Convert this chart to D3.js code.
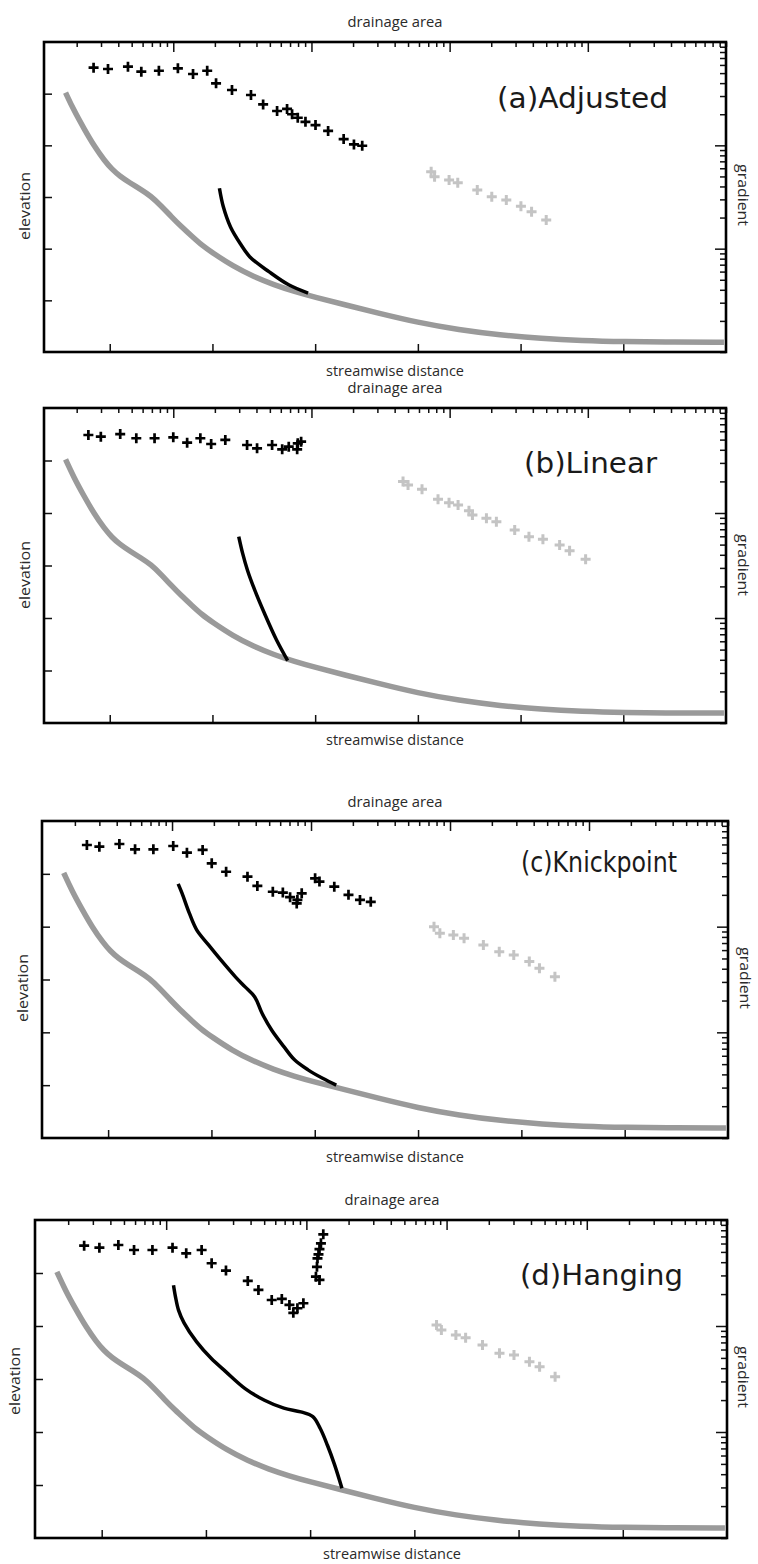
<!DOCTYPE html>
<html>
<head>
<meta charset="utf-8">
<script src="https://cdn.jsdelivr.net/npm/d3@7"></script>
<style>
  html, body { margin: 0; padding: 0; background: #fff; }
  svg { display: block; }
</style>
</head>
<body>
<div id="chart"></div>
<script>
// ---------------- data ----------------
const panelTitles = ["(a)Adjusted", "(b)Linear", "(c)Knickpoint", "(d)Hanging"];
const distanceTicks = [1, 2, 3, 4, 5, 6];
const elevationTicks = [1, 2, 3, 4, 5];
const areaMajorTicks = [10, 100, 1000, 10000];
const slopeMajorTicks = [0.01, 0.1];
const distDomain = [0.36, 7.0];
const elevDomain = [0, 6];
const areaDomain = [1.16, 100000];
const slopeDomain = [0.001, 1];

// main stem long profile (grey line), same in every panel
const mainDistance = [0.57, 0.65, 0.75, 0.85, 0.95, 1.02, 1.10, 1.20, 1.30, 1.40, 1.50, 1.60, 1.70, 1.80, 1.90, 2.00, 2.20, 2.40, 2.60, 2.80, 3.00, 3.30, 3.60, 4.00, 4.40, 4.80, 5.20, 5.60, 6.00, 6.50, 6.98];
const mainElevation = [5.02, 4.68, 4.32, 3.98, 3.70, 3.54, 3.40, 3.27, 3.15, 3.02, 2.83, 2.62, 2.42, 2.24, 2.06, 1.92, 1.66, 1.46, 1.30, 1.17, 1.06, 0.91, 0.76, 0.57, 0.43, 0.33, 0.26, 0.22, 0.20, 0.19, 0.19];

// tributary long profiles (black line)
const tribDistA = [2.068, 2.106, 2.176, 2.270, 2.365, 2.553, 2.742, 2.931];
const tribElevA = [3.17, 2.81, 2.42, 2.10, 1.84, 1.55, 1.30, 1.14];
const tribDistB = [2.256, 2.294, 2.341, 2.412, 2.506, 2.624, 2.732];
const tribElevB = [3.55, 3.23, 2.91, 2.53, 2.09, 1.58, 1.19];
const tribDistC = [1.678, 1.716, 1.787, 1.857, 1.974, 2.091, 2.232, 2.326, 2.419, 2.490, 2.584, 2.701, 2.804, 2.935, 3.076, 3.208];
const tribElevC = [4.81, 4.63, 4.25, 3.94, 3.65, 3.37, 3.05, 2.86, 2.67, 2.36, 2.04, 1.73, 1.48, 1.29, 1.13, 1.00];
const tribDistD = [1.689, 1.708, 1.737, 1.790, 1.911, 2.050, 2.190, 2.376, 2.562, 2.748, 2.910, 3.026, 3.096, 3.166, 3.235, 3.305];
const tribElevD = [4.77, 4.55, 4.30, 4.06, 3.70, 3.39, 3.14, 2.82, 2.60, 2.45, 2.38, 2.29, 2.07, 1.75, 1.38, 0.94];

// tributary slope-area (black +)
const tribAreaA = [2.65, 3.37, 4.70, 5.87, 7.87, 10.8, 13.9, 17.6, 20.4, 26.6, 36.5, 44.7, 56.4, 66.6, 72.4, 79.6, 90.5, 107, 132, 171, 203, 233];
const tribSlopeA = [0.564, 0.548, 0.577, 0.516, 0.527, 0.556, 0.490, 0.527, 0.398, 0.343, 0.307, 0.249, 0.215, 0.225, 0.200, 0.185, 0.169, 0.157, 0.138, 0.115, 0.102, 0.0991];
const tribAreaB = [2.43, 2.99, 4.13, 5.40, 7.32, 10.0, 12.6, 15.7, 18.8, 23.8, 34.2, 40.4, 51.9, 61.4, 68.5, 78.8, 84.2, 79.6];
const tribSlopeB = [0.553, 0.533, 0.565, 0.515, 0.515, 0.526, 0.467, 0.515, 0.454, 0.496, 0.444, 0.413, 0.444, 0.404, 0.428, 0.404, 0.478, 0.461];
const tribAreaC = [2.44, 3.00, 4.18, 5.42, 7.34, 10.2, 12.8, 16.6, 19.3, 24.5, 34.9, 41.1, 53.1, 62.7, 70.7, 79.8, 78.9, 85.7, 107, 115, 147, 186, 225, 269];
const tribSlopeC = [0.593, 0.571, 0.606, 0.540, 0.540, 0.580, 0.501, 0.532, 0.398, 0.331, 0.297, 0.243, 0.214, 0.210, 0.190, 0.179, 0.166, 0.207, 0.287, 0.267, 0.239, 0.200, 0.179, 0.172];
const tribAreaD = [2.60, 3.34, 4.56, 5.90, 7.98, 11.1, 13.9, 17.9, 21.1, 26.7, 38.2, 45.5, 56.6, 66.8, 75.7, 86.3, 95.2, 80.7, 132, 127, 124, 122, 120, 119, 117, 124];
const tribSlopeD = [0.573, 0.548, 0.581, 0.521, 0.521, 0.548, 0.485, 0.521, 0.391, 0.333, 0.266, 0.219, 0.176, 0.180, 0.158, 0.147, 0.164, 0.133, 0.733, 0.603, 0.532, 0.474, 0.435, 0.362, 0.292, 0.272];

// main stem slope-area (light grey +)
const mainAreaA = [735, 778, 991, 1145, 1585, 2018, 2571, 3280, 3917, 5000];
const mainSlopeA = [0.0555, 0.0497, 0.0461, 0.0435, 0.0369, 0.0318, 0.0295, 0.0258, 0.0228, 0.0189];
const mainAreaB = [460, 500, 631, 824, 990, 1151, 1380, 1462, 1846, 2179, 2957, 3750, 4732, 6252, 7380, 9640];
const mainSlopeB = [0.199, 0.185, 0.168, 0.135, 0.125, 0.119, 0.105, 0.0958, 0.0891, 0.0827, 0.0689, 0.0594, 0.0562, 0.0496, 0.0437, 0.0362];
const mainAreaC = [767, 845, 1057, 1262, 1738, 2261, 2875, 3719, 4400, 5685];
const mainSlopeC = [0.100, 0.0866, 0.0834, 0.0776, 0.0671, 0.0580, 0.0540, 0.0467, 0.0404, 0.0336];
const mainAreaD = [848, 918, 1165, 1367, 1804, 2384, 3025, 3899, 4607, 5943];
const mainSlopeD = [0.102, 0.0917, 0.0822, 0.0776, 0.0662, 0.0553, 0.0532, 0.0460, 0.0413, 0.0332];

const panelData = [
  {tribDist: tribDistA, tribElev: tribElevA, tribArea: tribAreaA, tribSlope: tribSlopeA, mainArea: mainAreaA, mainSlope: mainSlopeA},
  {tribDist: tribDistB, tribElev: tribElevB, tribArea: tribAreaB, tribSlope: tribSlopeB, mainArea: mainAreaB, mainSlope: mainSlopeB},
  {tribDist: tribDistC, tribElev: tribElevC, tribArea: tribAreaC, tribSlope: tribSlopeC, mainArea: mainAreaC, mainSlope: mainSlopeC},
  {tribDist: tribDistD, tribElev: tribElevD, tribArea: tribAreaD, tribSlope: tribSlopeD, mainArea: mainAreaD, mainSlope: mainSlopeD}
];

// ---------------- layout (pixels) ----------------
const layout = [
  {left: 44, right: 726, top: 42, bottom: 352, topLab: 27, botLab: 376, cx: 395, elevX: 30, elevY: 206, gradX: 738, gradY: 195, tx: 497, ty: 108, tw: 171},
  {left: 44, right: 726, top: 408, bottom: 723, topLab: 393, botLab: 745, cx: 395, elevX: 30, elevY: 575, gradX: 738, gradY: 565, tx: 524, ty: 473, tw: 133},
  {left: 42, right: 728, top: 821, bottom: 1138, topLab: 807, botLab: 1162, cx: 395, elevX: 28, elevY: 988, gradX: 740, gradY: 978, tx: 521, ty: 872, tw: 156},
  {left: 35, right: 727, top: 1220, bottom: 1538, topLab: 1205, botLab: 1559, cx: 392, elevX: 20, elevY: 1381, gradX: 738, gradY: 1377, tx: 520, ty: 1285, tw: 163}
];

const W = 758, H = 1564;
const svg = d3.select("#chart").append("svg").attr("width", W).attr("height", H)
  .style("font-family", "'Open Sans', 'Noto Sans', sans-serif");
svg.append("rect").attr("width", W).attr("height", H).attr("fill", "#fff");

const plusPath = (s) => `M${-s},0H${s}M0,${-s}V${s}`;

panelData.forEach((pd, i) => {
  const L = layout[i];
  const g = svg.append("g");
  const x = d3.scaleLinear().domain(distDomain).range([L.left, L.right]);
  const y = d3.scaleLinear().domain(elevDomain).range([L.bottom, L.top]);
  const xa = d3.scaleLog().domain(areaDomain).range([L.left, L.right]);
  const ya = d3.scaleLog().domain(slopeDomain).range([L.bottom, L.top]);

  const styleAxis = (sel) => {
    sel.select(".domain").remove();
    sel.selectAll(".tick line").attr("stroke", "#111").attr("stroke-width", 1.5);
  };

  // axes with inward ticks
  g.append("g").attr("transform", `translate(0,${L.bottom})`)
    .call(d3.axisBottom(x).tickValues(distanceTicks).tickSize(-8).tickFormat(""))
    .call(styleAxis);
  g.append("g").attr("transform", `translate(${L.left},0)`)
    .call(d3.axisLeft(y).tickValues(elevationTicks).tickSize(-8).tickFormat(""))
    .call(styleAxis);
  const areaMinor = xa.ticks().filter(v => !areaMajorTicks.includes(v));
  g.append("g").attr("transform", `translate(0,${L.top})`)
    .call(d3.axisTop(xa).tickValues(areaMinor).tickSize(-5).tickFormat(""))
    .call(styleAxis);
  g.append("g").attr("transform", `translate(0,${L.top})`)
    .call(d3.axisTop(xa).tickValues(areaMajorTicks).tickSize(-10).tickFormat(""))
    .call(styleAxis);
  const slopeMinor = ya.ticks().filter(v => !slopeMajorTicks.includes(v));
  g.append("g").attr("transform", `translate(${L.right},0)`)
    .call(d3.axisRight(ya).tickValues(slopeMinor).tickSize(-6).tickFormat(""))
    .call(styleAxis);
  g.append("g").attr("transform", `translate(${L.right},0)`)
    .call(d3.axisRight(ya).tickValues(slopeMajorTicks).tickSize(-11).tickFormat(""))
    .call(styleAxis);

  // grey main-stem profile
  const greyLine = d3.line().x(d => x(d[0])).y(d => y(d[1])).curve(d3.curveBasis);
  g.append("path")
    .datum(d3.zip(mainDistance, mainElevation))
    .attr("d", greyLine)
    .attr("fill", "none").attr("stroke", "#9a9a9a").attr("stroke-width", 5.5);

  // black tributary profile
  const line = d3.line().x(d => x(d[0])).y(d => y(d[1])).curve(d3.curveCatmullRom.alpha(0.5));
  g.append("path")
    .datum(d3.zip(pd.tribDist, pd.tribElev))
    .attr("d", line)
    .attr("fill", "none").attr("stroke", "#000").attr("stroke-width", 3.5);

  // slope-area crosses
  g.selectAll(".mp").data(d3.zip(pd.mainArea, pd.mainSlope)).enter().append("path")
    .attr("transform", d => `translate(${xa(d[0])},${ya(d[1])})`)
    .attr("d", plusPath(5)).attr("stroke", "#c4c4c4").attr("stroke-width", 3).attr("fill", "none");
  g.selectAll(".tp").data(d3.zip(pd.tribArea, pd.tribSlope)).enter().append("path")
    .attr("transform", d => `translate(${xa(d[0])},${ya(d[1])})`)
    .attr("d", plusPath(5)).attr("stroke", "#000").attr("stroke-width", 2.7).attr("fill", "none");

  // frame
  g.append("rect").attr("x", L.left).attr("y", L.top)
    .attr("width", L.right - L.left).attr("height", L.bottom - L.top)
    .attr("fill", "none").attr("stroke", "#000").attr("stroke-width", 2.6);

  // labels
  const lab = (sel, len) => sel.attr("font-size", 15).attr("fill", "#2a2a2a")
    .attr("textLength", len).attr("lengthAdjust", "spacingAndGlyphs");
  g.append("text").attr("x", L.cx).attr("y", L.topLab).attr("text-anchor", "middle")
    .call(lab, 95).text("drainage area");
  g.append("text").attr("x", L.cx).attr("y", L.botLab).attr("text-anchor", "middle")
    .call(lab, 138).text("streamwise distance");
  g.append("text").attr("transform", `translate(${L.elevX},${L.elevY}) rotate(-90)`).attr("text-anchor", "middle")
    .call(lab, 68).text("elevation");
  g.append("text").attr("transform", `translate(${L.gradX},${L.gradY}) rotate(90)`).attr("text-anchor", "middle")
    .call(lab, 62).text("gradient");

  g.append("text").attr("x", L.tx).attr("y", L.ty)
    .attr("font-family", "'DejaVu Sans', sans-serif").attr("font-size", 28).attr("fill", "#1a1a1a")
    .attr("textLength", L.tw).attr("lengthAdjust", "spacingAndGlyphs")
    .text(panelTitles[i]);
});
</script>
</body>
</html>
